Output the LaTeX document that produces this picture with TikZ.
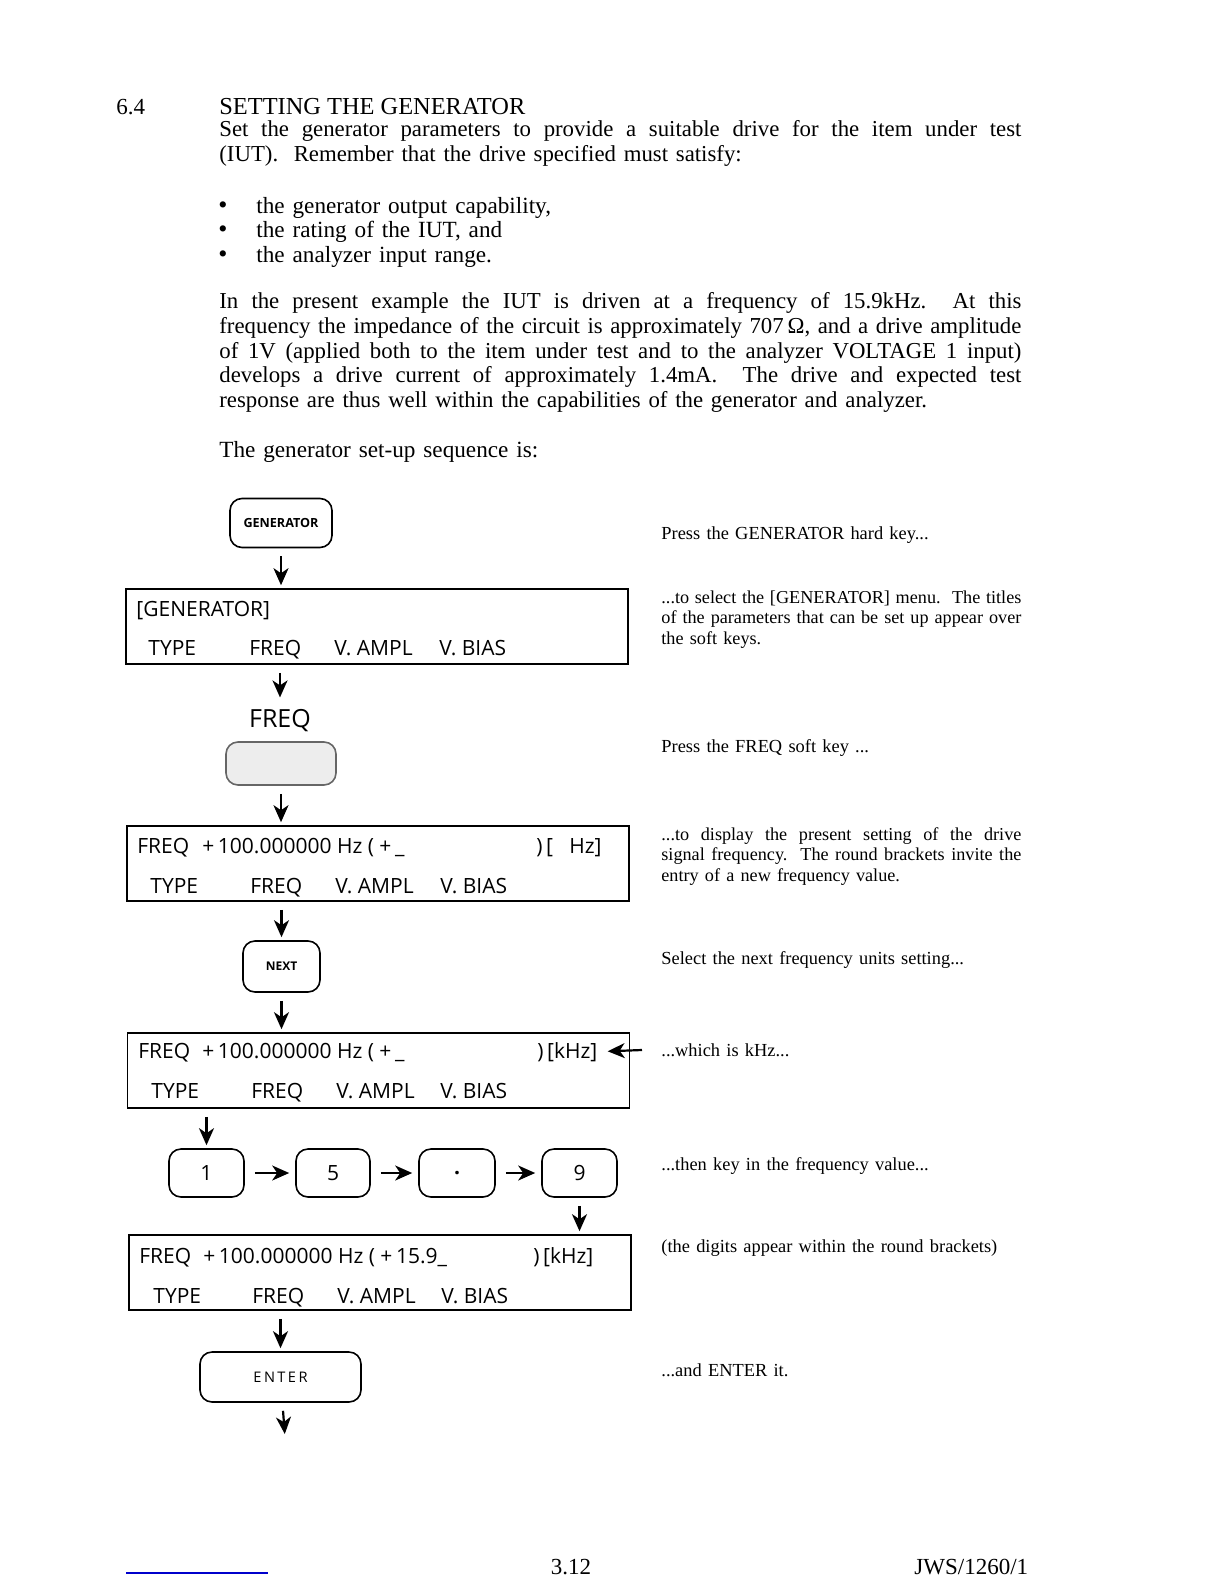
\documentclass[tikz,border=0pt]{standalone}
\usepackage{fontspec}
\setmainfont{Liberation Serif}
\newfontfamily\lcdfont{Open Sans}
\usetikzlibrary{arrows.meta, positioning, calc}
\newcommand\widesp{\spaceskip=0.34em plus 0.5em minus 0.03em\relax}

\begin{document}
\begin{tikzpicture}[x=0.5pt, y=-0.5pt,
    lcd/.style={draw, line width=0.8pt, minimum width=251pt, minimum height=37.5pt, inner sep=0pt},
    lcdtext/.style={anchor=base west, inner sep=0pt, font=\lcdfont\fontsize{10.5}{12}\selectfont},
    hardkey/.style={draw, line width=0.8pt, rounded corners=6pt, inner sep=0pt, font=\lcdfont},
    flow/.style={-{Stealth[length=8.5pt, width=7.5pt, inset=2.5pt]}, line width=1.1pt, shorten <=4pt, shorten >=1.5pt},
    body/.style={anchor=north west, inner sep=0pt, text width=401pt, align=justify, font=\fontsize{11.4}{12.3}\selectfont\widesp},
    line/.style={anchor=west, inner sep=0pt, font=\fontsize{11.6}{12}\selectfont\widesp},
    note/.style={anchor=north west, inner sep=0pt, text width=180pt, align=justify, font=\fontsize{9.1}{10.35}\selectfont\widesp},
    noteline/.style={anchor=west, inner sep=0pt, font=\fontsize{9.2}{10}\selectfont\widesp}]
    \useasboundingbox (0,0) rectangle (1224,1584);

    % Heading and introduction
    \node[line, font=\fontsize{11.5}{12}\selectfont] (secno) at (116,107) {6.4};
    \node[line, font=\fontsize{12.2}{12}\selectfont] (title) at (219,107) {SETTING THE GENERATOR};
    \node[body] (para1) at (219,120) {Set the generator parameters to provide a suitable drive for the item under test\linebreak (IUT).\ \ Remember that the drive specified must satisfy:};

    \node[line, font=\fontsize{13}{12}\selectfont] (dot1) at (218,208) {\textbullet};
    \node[line, font=\fontsize{13}{12}\selectfont] (dot2) at (218,232) {\textbullet};
    \node[line, font=\fontsize{13}{12}\selectfont] (dot3) at (218,257) {\textbullet};
    \node[line] (item1) at (256,208) {the generator output capability,};
    \node[line] (item2) at (256,232) {the rating of the IUT, and};
    \node[line] (item3) at (256,257) {the analyzer input range.};

    \node[body, font=\fontsize{11.4}{12.4}\selectfont\widesp] (para2) at (219,292) {In the present example the IUT is driven at a frequency of 15.9kHz.\ \ At this\linebreak frequency the impedance of the circuit is approximately 707\,Ω, and a drive amplitude\linebreak of 1V (applied both to the item under test and to the analyzer VOLTAGE 1 input)\linebreak develops a drive current of approximately 1.4mA.\ \ The drive and expected test\linebreak response are thus well within the capabilities of the generator and analyzer.};
    \node[line] (seqline) at (219,452) {The generator set-up sequence is:};

    % Key sequence
    \node[hardkey, minimum width=51pt, minimum height=24.5pt, font=\lcdfont\bfseries\fontsize{6.3}{7}\selectfont] (genkey) at (281,523) {GENERATOR};

    \node[lcd] (lcd1) at (377,626.5) {};
    \node[lcdtext] (menu1) at (136,616) {[GENERATOR]};
    \node[lcdtext] (type1) at (148,655) {TYPE};
    \node[lcdtext] (freq1) at (249,655) {FREQ};
    \node[lcdtext] (ampl1) at (334,655) {V. AMPL};
    \node[lcdtext] (bias1) at (439,655) {V. BIAS};

    \node[inner sep=0pt, font=\lcdfont\fontsize{12.5}{14}\selectfont] (freqlbl) at (280,721) {FREQ};
    \node[hardkey, minimum width=55pt, minimum height=21.5pt, draw=black!60, fill=black!7] (softkey) at (281,763.5) {};

    \node[lcd] (lcd2) at (378,863.5) {};
    \node[lcdtext] (name2) at (137,853) {FREQ};
    \node[lcdtext] (value2) at (202,853) {+\,100.000000 Hz ( +\,\_};
    \node[lcdtext] (unit2) at (536,853) {)\,[\ \ \ Hz]};
    \node[lcdtext] (type2) at (150,893) {TYPE};
    \node[lcdtext] (freq2) at (250,893) {FREQ};
    \node[lcdtext] (ampl2) at (335,893) {V. AMPL};
    \node[lcdtext] (bias2) at (440,893) {V. BIAS};

    \node[hardkey, minimum width=38.5pt, minimum height=25.5pt, font=\lcdfont\bfseries\fontsize{6}{7}\selectfont] (nextkey) at (281.5,966.5) {NEXT};

    \node[lcd] (lcd3) at (378.5,1070.5) {};
    \node[lcdtext] (name3) at (138,1058) {FREQ};
    \node[lcdtext] (value3) at (202,1058) {+\,100.000000 Hz ( +\,\_};
    \node[lcdtext] (unit3) at (537,1058) {)\,[kHz]};
    \node[lcdtext] (type3) at (151,1098) {TYPE};
    \node[lcdtext] (freq3) at (251,1098) {FREQ};
    \node[lcdtext] (ampl3) at (336,1098) {V. AMPL};
    \node[lcdtext] (bias3) at (440,1098) {V. BIAS};
    \coordinate (khzin) at (642,1050);

    \node[hardkey, minimum width=37.5pt, minimum height=24pt, font=\lcdfont\fontsize{10.5}{12}\selectfont] (k1) at (206.5,1173) {1};
    \node[hardkey, minimum width=37pt, minimum height=24pt, font=\lcdfont\fontsize{10.5}{12}\selectfont] (k5) at (333,1173) {5};
    \node[hardkey, minimum width=38pt, minimum height=24pt, font=\lcdfont\bfseries\fontsize{10.5}{12}\selectfont] (kdot) at (457,1173) {.};
    \node[hardkey, minimum width=37.5pt, minimum height=24pt, font=\lcdfont\fontsize{10.5}{12}\selectfont] (k9) at (579.5,1173) {9};

    \node[lcd] (lcd4) at (380,1272.5) {};
    \node[lcdtext] (name4) at (139,1263) {FREQ};
    \node[lcdtext] (value4) at (203,1263) {+\,100.000000 Hz ( +\,15.9\_};
    \node[lcdtext] (unit4) at (533,1263) {)\,[kHz]};
    \node[lcdtext] (type4) at (153,1303) {TYPE};
    \node[lcdtext] (freq4) at (252,1303) {FREQ};
    \node[lcdtext] (ampl4) at (337,1303) {V. AMPL};
    \node[lcdtext] (bias4) at (441,1303) {V. BIAS};

    \node[hardkey, minimum width=80.5pt, minimum height=25pt, font=\lcdfont\fontsize{7.3}{8}\selectfont] (enterkey) at (280.5,1377) {E\,N\,T\,E\,R};
    \coordinate (endpt) at (285,1437);

    % Flow arrows
    \draw[flow] (genkey) -- (genkey |- lcd1.north);
    \draw[flow, shorten >=6pt] (lcd1.south -| freqlbl) -- (freqlbl);
    \draw[flow] (softkey) -- (softkey |- lcd2.north);
    \draw[flow] (lcd2.south -| nextkey) -- (nextkey);
    \draw[flow] (nextkey) -- (nextkey |- lcd3.north);
    \draw[flow, shorten <=0pt, shorten >=5pt] (khzin) -- (unit3.east);
    \draw[flow] (lcd3.south -| k1) -- (k1);
    \draw[flow, shorten <=5pt, shorten >=3pt] (k1) -- (k5);
    \draw[flow, shorten <=5pt, shorten >=3pt] (k5) -- (kdot);
    \draw[flow, shorten <=5pt, shorten >=3pt] (kdot) -- (k9);
    \draw[flow] (k9) -- (k9 |- lcd4.north);
    \draw[flow] (lcd4.south -| enterkey) -- (enterkey);
    \draw[flow] (enterkey) -- (endpt);

    % Notes beside the sequence
    \node[noteline] (note1) at (661,535) {Press the GENERATOR hard key...};
    \node[note] (note2) at (661,590) {...to select the [GENERATOR] menu.\ \ The titles\linebreak of the parameters that can be set up appear over\linebreak the soft keys.};
    \node[noteline] (note3) at (661,748) {Press the FREQ soft key ...};
    \node[note] (note4) at (661,827) {...to display the present setting of the drive\linebreak signal frequency.\ \ The round brackets invite the\linebreak entry of a new frequency value.};
    \node[noteline] (note5) at (661,960) {Select the next frequency units setting...};
    \node[noteline] (note6) at (661,1050) {...which is kHz...};
    \node[noteline] (note7) at (661,1166) {...then key in the frequency value...};
    \node[noteline] (note8) at (661,1248) {(the digits appear within the round brackets)};
    \node[noteline] (note9) at (661,1370) {...and ENTER it.};

    % Footer
    \draw[blue!80!black, line width=0.8pt] (126,1573) -- (268,1573);
    \node[line, anchor=center, font=\fontsize{11.5}{12}\selectfont] (pageno) at (571,1567) {3.12};
    \node[line, font=\fontsize{11.5}{12}\selectfont] (docref) at (914,1567) {JWS/1260/1};
\end{tikzpicture}
\end{document}
